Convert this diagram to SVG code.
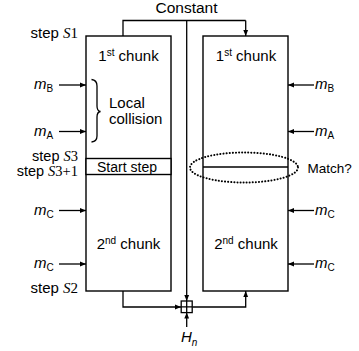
<svg xmlns="http://www.w3.org/2000/svg" width="359" height="351" viewBox="0 0 359 351">
<defs>
<marker id="ah" viewBox="0 0 10 10" refX="10" refY="5" markerWidth="6" markerHeight="6" markerUnits="userSpaceOnUse" orient="auto">
<path d="M0,1 L10,5 L0,9 Z" fill="#000"/>
</marker>
</defs>
<style>
text{font-family:"Liberation Sans",Arial,sans-serif;font-size:15px;fill:#000}
.ser{font-family:"Liberation Serif","Times New Roman",serif;font-style:italic}
.num{font-family:"Liberation Serif","Times New Roman",serif}
.it{font-style:italic}
.sm{font-size:10px}
.box{fill:#fff;stroke:#000;stroke-width:1.4}
.ln{fill:none;stroke:#000;stroke-width:1.3}
.arr{fill:none;stroke:#000;stroke-width:1.3;marker-end:url(#ah)}
</style>
<rect width="359" height="351" fill="#fff"/>
<g id="connectors">
<path class="ln" d="M123,36 V20.5 H245.7"/>
<path class="arr" d="M245.7,20.5 V36"/>
<path class="arr" d="M186.7,20.5 V301"/>
<path class="arr" d="M123,291 V307 H181"/>
<path class="arr" d="M192.3,307 H245.7 V291"/>
<path class="arr" d="M186.7,327 V312.6"/>
<path class="arr" d="M59,85 H86"/>
<path class="arr" d="M59,131.5 H86"/>
<path class="arr" d="M59,210.5 H86"/>
<path class="arr" d="M59,264 H86"/>
<path class="arr" d="M314,85 H288"/>
<path class="arr" d="M314,131.5 H288"/>
<path class="arr" d="M314,210.5 H288"/>
<path class="arr" d="M314,264 H288"/>
</g>
<g id="left-box">
<rect class="box" x="86" y="36" width="85" height="255"/>
<rect class="box" x="86" y="158.5" width="85" height="16"/>
<text x="128.5" y="61" text-anchor="middle">1<tspan class="sm" dy="-5">st</tspan><tspan dy="5"> chunk</tspan></text>
<text x="127" y="171.5" text-anchor="middle" style="font-size:14px">Start step</text>
<text x="128.5" y="248.5" text-anchor="middle">2<tspan class="sm" dy="-5">nd</tspan><tspan dy="5"> chunk</tspan></text>
<path class="ln" d="M91.5,79.5 Q97,80 97,86 V106 Q97,111 100.5,111.5 Q97,112 97,117 V136 Q97,141.5 91.5,142"/>
<text x="109" y="107.5">Local</text>
<text x="109" y="123.5">collision</text>
</g>
<g id="right-box">
<rect class="box" x="203" y="36" width="85" height="255"/>
<line class="ln" x1="203" y1="167" x2="288" y2="167"/>
<text x="246" y="61" text-anchor="middle">1<tspan class="sm" dy="-5">st</tspan><tspan dy="5"> chunk</tspan></text>
<text x="246" y="248.5" text-anchor="middle">2<tspan class="sm" dy="-5">nd</tspan><tspan dy="5"> chunk</tspan></text>
</g>
<g id="match">
<ellipse cx="244" cy="167.5" rx="54" ry="15" fill="none" stroke="#000" stroke-width="2" stroke-dasharray="0.1 3" stroke-linecap="round"/>
<text x="307.5" y="172.5" style="font-size:13.5px">Match?</text>
</g>
<g id="xor">
<rect x="181.2" y="301" width="11" height="11.6" fill="#fff" stroke="#000" stroke-width="1.3"/>
<path class="ln" d="M186.7,301 V312.6 M181.2,306.8 H192.2"/>
</g>
<g id="labels">
<text x="186.5" y="12.5" text-anchor="middle" style="font-size:15.5px">Constant</text>
<text x="78" y="38" text-anchor="end">step <tspan class="ser">S</tspan><tspan class="num">1</tspan></text>
<text x="78" y="161" text-anchor="end" style="font-size:14.5px">step <tspan class="ser">S</tspan><tspan class="num">3</tspan></text>
<text x="78" y="175.5" text-anchor="end" style="font-size:14.5px">step <tspan class="ser">S</tspan><tspan class="num">3+1</tspan></text>
<text x="78" y="293" text-anchor="end">step <tspan class="ser">S</tspan><tspan class="num">2</tspan></text>
<text x="34" y="89" class="it">m<tspan class="sm" style="font-style:normal" dy="3">B</tspan></text>
<text x="34" y="135.5" class="it">m<tspan class="sm" style="font-style:normal" dy="3">A</tspan></text>
<text x="34" y="214.5" class="it">m<tspan class="sm" style="font-style:normal" dy="3">C</tspan></text>
<text x="34" y="268" class="it">m<tspan class="sm" style="font-style:normal" dy="3">C</tspan></text>
<text x="315" y="89" class="it">m<tspan class="sm" style="font-style:normal" dy="3">B</tspan></text>
<text x="315" y="135.5" class="it">m<tspan class="sm" style="font-style:normal" dy="3">A</tspan></text>
<text x="315" y="214.5" class="it">m<tspan class="sm" style="font-style:normal" dy="3">C</tspan></text>
<text x="315" y="268" class="it">m<tspan class="sm" style="font-style:normal" dy="3">C</tspan></text>
<text x="181" y="342" class="it">H<tspan class="sm" dy="4">n</tspan></text>
</g>
</svg>
